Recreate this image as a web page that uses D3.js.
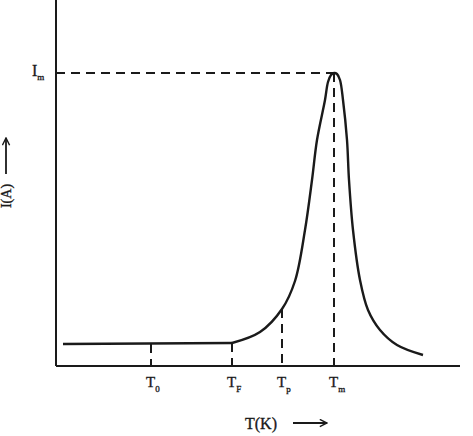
<!DOCTYPE html>
<html><head><meta charset="utf-8">
<script src="https://cdn.jsdelivr.net/npm/d3@7"></script>
<style>body{margin:0;background:#fff}</style>
</head><body>
<svg id="c" width="473" height="436"></svg>
<script>
// Data (arbitrary units)
const flatT = [7,176];
const flatI = [22,23];
const curveT = [176,204,226,239,249,256,261,269,272,275,278,281,284,287,291,293,297,304,312,324,341,367];
const curveI = [23,34,57,85,136,186,226,266,284,291,293,292,286,266,226,186,136,86,56,36,21,11];
const markerNames = ["0","F","p","m"];
const markerT = [95,176,226,278];
const markerI = [22,23,57,293];
const peakI = 293;

const svg = d3.select("#c");
const x = d3.scaleLinear().domain([0,404]).range([56,460]);
const y = d3.scaleLinear().domain([0,366]).range([366,0]);
const font = "'Liberation Serif','Times New Roman',serif";
const ink = "#1a1a1a";

// axes
svg.append("line").attr("x1",x(0)).attr("x2",x(0)).attr("y1",y(366)).attr("y2",y(0))
  .attr("stroke",ink).attr("stroke-width",2);
svg.append("line").attr("x1",x(0)).attr("x2",x(404)).attr("y1",y(0)).attr("y2",y(0))
  .attr("stroke",ink).attr("stroke-width",2);

// dashed guides
const dash = "9,6";
svg.append("line").attr("x1",x(0)).attr("x2",x(markerT[3])).attr("y1",y(peakI)).attr("y2",y(peakI))
  .attr("stroke",ink).attr("stroke-width",2).attr("stroke-dasharray",dash);
markerT.forEach((t,i)=>{
  svg.append("line").attr("x1",x(t)).attr("x2",x(t)).attr("y1",y(markerI[i])).attr("y2",y(0))
    .attr("stroke",ink).attr("stroke-width",2).attr("stroke-dasharray",dash);
});

// curve
const flat = flatT.map((t,i)=>[t,flatI[i]]);
const pts = curveT.map((t,i)=>[t,curveI[i]]);
svg.append("path").attr("d",d3.line().x(d=>x(d[0])).y(d=>y(d[1]))(flat))
  .attr("fill","none").attr("stroke",ink).attr("stroke-width",2.4);
const line = d3.line().x(d=>x(d[0])).y(d=>y(d[1])).curve(d3.curveCatmullRom.alpha(0.5));
svg.append("path").attr("d",line(pts)).attr("fill","none").attr("stroke",ink).attr("stroke-width",2.4)
  .attr("stroke-linejoin","round");

function txt(sel){ return sel.attr("font-family",font).attr("fill",ink).attr("stroke",ink).attr("stroke-width",0.35); }

// tick labels
markerT.forEach((t,i)=>{
  const tx = txt(svg.append("text").attr("x",x(t)-5).attr("y",387).attr("font-size",15));
  tx.append("tspan").text("T");
  tx.append("tspan").attr("font-size",9).attr("dy",5).text(markerNames[i]);
});

// Im label
const im = txt(svg.append("text").attr("x",32).attr("y",y(peakI)+3).attr("font-size",16));
im.append("tspan").text("I");
im.append("tspan").attr("font-size",9).attr("dy",4).text("m");

// axis titles
txt(svg.append("text").attr("x",245).attr("y",429).attr("font-size",16)).text("T(K)");
const defs = svg.append("defs");
defs.append("marker").attr("id","ah").attr("viewBox","0 0 10 10").attr("refX",9).attr("refY",5)
  .attr("markerWidth",9).attr("markerHeight",9).attr("orient","auto").attr("markerUnits","userSpaceOnUse")
  .append("path").attr("d","M1,1 L9,5 L1,9").attr("fill","none").attr("stroke",ink).attr("stroke-width",1.6);
svg.append("line").attr("x1",293).attr("x2",327).attr("y1",423).attr("y2",423)
  .attr("stroke",ink).attr("stroke-width",1.8).attr("marker-end","url(#ah)");

txt(svg.append("text").attr("transform","translate(11,196) rotate(-90)").attr("text-anchor","middle")
  .attr("font-size",14)).text("I(A)");
svg.append("line").attr("x1",6).attr("x2",6).attr("y1",174).attr("y2",138)
  .attr("stroke",ink).attr("stroke-width",1.8).attr("marker-end","url(#ah)");
</script>
</body></html>
